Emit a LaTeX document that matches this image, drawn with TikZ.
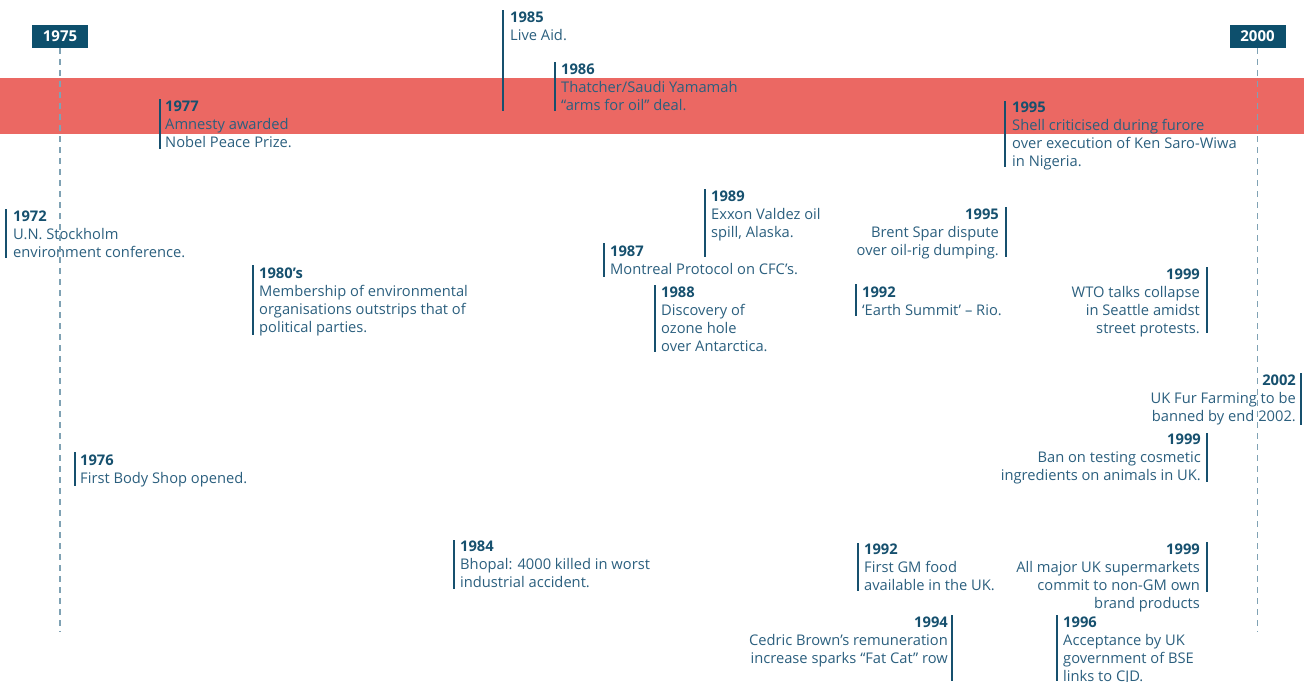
\documentclass[tikz,border=0pt]{standalone}
\usepackage{fontspec}
\setmainfont{Open Sans}
\definecolor{navy}{HTML}{0D4F6C}
\definecolor{txt}{HTML}{2B5F7E}
\definecolor{yr}{HTML}{16506E}
\definecolor{bandred}{HTML}{EB6863}
\definecolor{dashcol}{HTML}{7FA2B4}
\newcommand\evyear[1]{{\bfseries\color{yr}#1}}
\tikzset{
  ev/.style={font=\fontsize{14.7}{18}\selectfont, text=txt, inner sep=0pt, align=left, anchor=north west},
  evr/.style={ev, align=right, anchor=north east},
  evbar/.style={line width=2.5pt, draw=yr},
  yearbox/.style={fill=navy, text=white, font=\fontsize{15}{15}\bfseries\selectfont, minimum width=56pt, minimum height=23pt, inner sep=0pt},
  axis/.style={draw=dashcol, line width=1.6pt, dash pattern=on 6pt off 5pt}
}
\begin{document}
\begin{tikzpicture}[x=1pt,y=-1pt]
\useasboundingbox (0,0) rectangle (1304,681);
\fill[bandred] (0,78) rectangle (1304,134);

% year boxes
\node[yearbox] (y1975) at (60,36.5) {1975};
\node[yearbox] (y2000) at (1257.5,36.5) {2000};
\coordinate (end1975) at (60,632);
\coordinate (end2000) at (1257.5,632);

% events
\node[ev] (e1985) at (510,12) {\evyear{1985}\\Live Aid.};
\node[ev] (e1986) at (561,64) {\evyear{1986}\\Thatcher/Saudi Yamamah\\“arms for oil” deal.};
\node[ev] (e1977) at (165,101) {\evyear{1977}\\Amnesty awarded\\Nobel Peace Prize.};
\node[ev] (e1995a) at (1012,102) {\evyear{1995}\\Shell criticised during furore\\over execution of Ken Saro-Wiwa\\in Nigeria.};
\node[ev] (e1972) at (13,211) {\evyear{1972}\\U.N. Stockholm\\environment conference.};
\node[ev] (e1980) at (259,268) {\evyear{1980’s}\\Membership of environmental\\organisations outstrips that of\\political parties.};
\node[ev] (e1989) at (711,191) {\evyear{1989}\\Exxon Valdez oil\\spill, Alaska.};
\node[ev] (e1987) at (610,246) {\evyear{1987}\\Montreal Protocol on CFC’s.};
\node[ev] (e1988) at (661,287) {\evyear{1988}\\Discovery of\\ozone hole\\over Antarctica.};
\node[evr] (e1995b) at (999,209) {\evyear{1995}\\Brent Spar dispute\\over oil-rig dumping.};
\node[ev] (e1992a) at (862,287) {\evyear{1992}\\‘Earth Summit’ – Rio.};
\node[evr] (e1999a) at (1200,269) {\evyear{1999}\\WTO talks collapse\\in Seattle amidst\\street protests.};
\node[evr] (e2002) at (1296,375) {\evyear{2002}\\UK Fur Farming to be\\banned by end 2002.};
\node[evr] (e1999b) at (1201,434) {\evyear{1999}\\Ban on testing cosmetic\\ingredients on animals in UK.};
\node[ev] (e1976) at (80,455) {\evyear{1976}\\First Body Shop opened.};
\node[ev] (e1984) at (460,541) {\evyear{1984}\\Bhopal: 4000 killed in worst\\industrial accident.};
\node[ev] (e1992b) at (864,544) {\evyear{1992}\\First GM food\\available in the UK.};
\node[evr] (e1999c) at (1200,544) {\evyear{1999}\\All major UK supermarkets\\commit to non-GM own\\brand products};
\node[evr] (e1994) at (948,617) {\evyear{1994}\\Cedric Brown’s remuneration\\increase sparks “Fat Cat” row};
\node[ev] (e1996) at (1063,617) {\evyear{1996}\\Acceptance by UK\\government of BSE\\links to CJD.};

% bars
\foreach \x/\a/\b in {503/10/111, 555/62/111, 160/99/149, 1005/101/167, 6/209/258,
  253/265/335, 705/189/257, 604/243/277, 655/285/352, 1006/207/257, 856/284/316,
  1207/267/333, 1301/373/425, 1207/433/482, 75/452/486, 454/540/589, 858/543/591,
  1207/542/592, 952/615/681, 1057/615/681}
  \draw[evbar] (\x,\a) -- (\x,\b);

% dashed axes
\draw[axis] (y1975.south) -- (end1975);
\draw[axis] (y2000.south) -- (end2000);
\end{tikzpicture}
\end{document}
